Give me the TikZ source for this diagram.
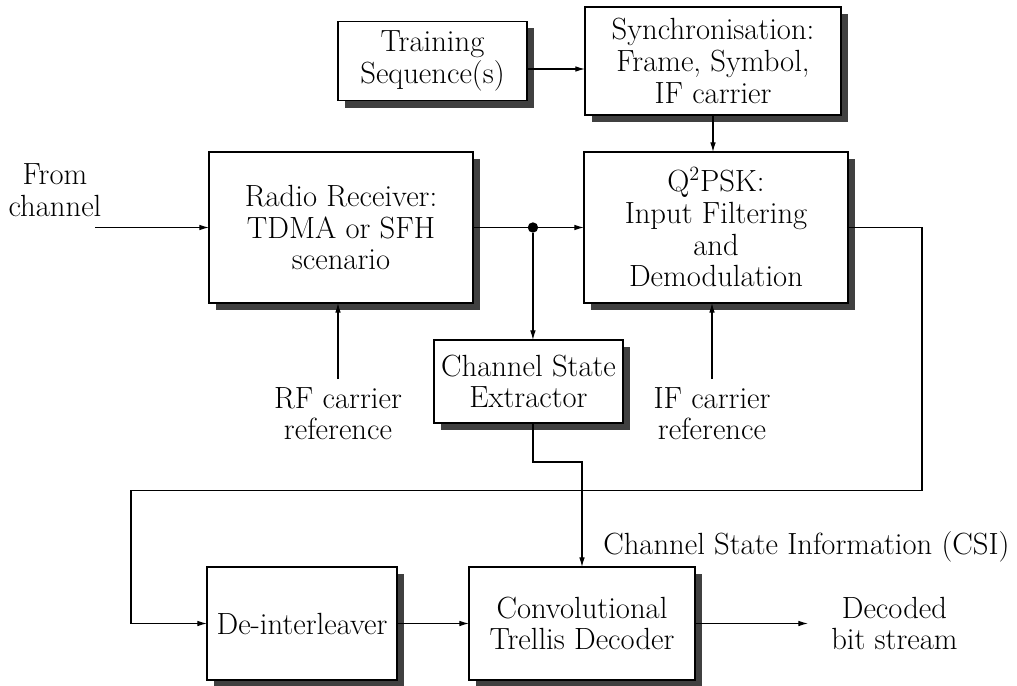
\documentclass[tikz,border=0pt]{standalone}
\usepackage{amsmath}
\usepackage{tikz}
\usetikzlibrary{positioning,shadows,calc,arrows.meta}

\tikzset{
  block/.style={draw, fill=white, line width=0.9pt, align=center, inner sep=0pt, outer sep=0pt,
    drop shadow={shadow xshift=0.175cm, shadow yshift=-0.175cm, fill=black!75, opacity=1}},
  txt/.style={align=center, inner sep=0.2cm},
  sig/.style={line width=0.8pt, -{Latex[length=2.4mm, width=1.4mm]}},
  junction/.style={circle, fill=black, inner sep=0pt, minimum size=0.26cm}
}

\begin{document}
\begin{tikzpicture}[font=\fontsize{21.8}{22.6}\selectfont]
	  \useasboundingbox (0,0) rectangle (25.425,-17.15);

	  \node[block, minimum width=6.6cm, minimum height=3.775cm] (radio) at (8.525,-5.6875)
	  	{Radio Receiver:\\TDMA or SFH\\scenario} ; %
	  \node[block, minimum width=6.6cm, minimum height=3.775cm, right=2.775 of radio] (q2psk)
	  	{Q$^2$PSK:\\Input Filtering\\and\\Demodulation};
          \node[block, minimum width=6.4cm, minimum height=2.7cm, above=0.925 of q2psk, xshift=-0.075cm] (sync)
          	{Synchronisation:\\Frame, Symbol,\\IF carrier};
          \node[block, minimum width=4.725cm, minimum height=1.975cm, left=1.45 of sync] (train)
          	{Training\\Sequence(s)};
          \coordinate (mid) at ($(radio.south)!0.5!(q2psk.south)$);
          \node[block, minimum width=4.725cm, minimum height=2.075cm, below=0.925 of mid] (extractor)
          	{Channel State\\Extractor};
          \node[block, minimum width=5.65cm, minimum height=2.825cm, below=3.6 of extractor, xshift=1.3375cm] (decoder)
          	{Convolutional\\Trellis Decoder};
          \node[block, minimum width=4.75cm, minimum height=2.825cm, left=1.8 of decoder] (deint)
          	{De-interleaver};

	  \node[txt] (fromch) at ([xshift=-3.85cm, yshift=0.94cm]radio.west) {From\\channel};
          \node[txt, below=1.9 of radio, xshift=-0.075cm] (rfref) {RF carrier\\reference};
          \node[txt, below=1.9 of q2psk, xshift=-0.1cm] (ifref) {IF carrier\\reference};
          \node[txt] (csi) at ([xshift=5.61cm, yshift=1.91cm]decoder) {Channel State Information (CSI)};
          \node[txt, right=3.2 of decoder] (decoded) {Decoded\\bit stream};

	  \coordinate (in) at ([xshift=-2.85cm]radio.west);
	  \coordinate (t1) at ([yshift=-0.2cm]train.east);
	  \coordinate (loopr) at ([xshift=1.85cm, yshift=-6.575cm]q2psk.east);
	  \coordinate (loopl) at ([xshift=-1.9cm]deint.west);
	  \coordinate (out) at ([xshift=2.825cm]decoder.east);
	  \node[junction] (dot) at ($(radio.east)!0.54!(q2psk.west)$) {};

          \draw[sig] (in) -- (radio.west);
          \draw[sig] (t1) -- (t1 -| sync.west);
          \draw[sig] (sync.south) -- (sync.south |- q2psk.north);
          \draw[sig] (radio.east) -- (q2psk.west);
          \draw[sig] (dot) -- (dot |- extractor.north);
          \draw[sig] (rfref.north) -- (rfref.north |- radio.south);
          \draw[sig] (ifref.north) -- (ifref.north |- q2psk.south);
          \draw[sig] (dot |- extractor.south) -- ++(0,-0.975) -| (decoder.north);
          \draw[sig] (q2psk.east) -| (loopr) -- (loopr -| loopl) |- (deint.west);
          \draw[sig] (deint.east) -- (decoder.west);
          \draw[sig] (decoder.east) -- (out);

	\end{tikzpicture}
\end{document}
